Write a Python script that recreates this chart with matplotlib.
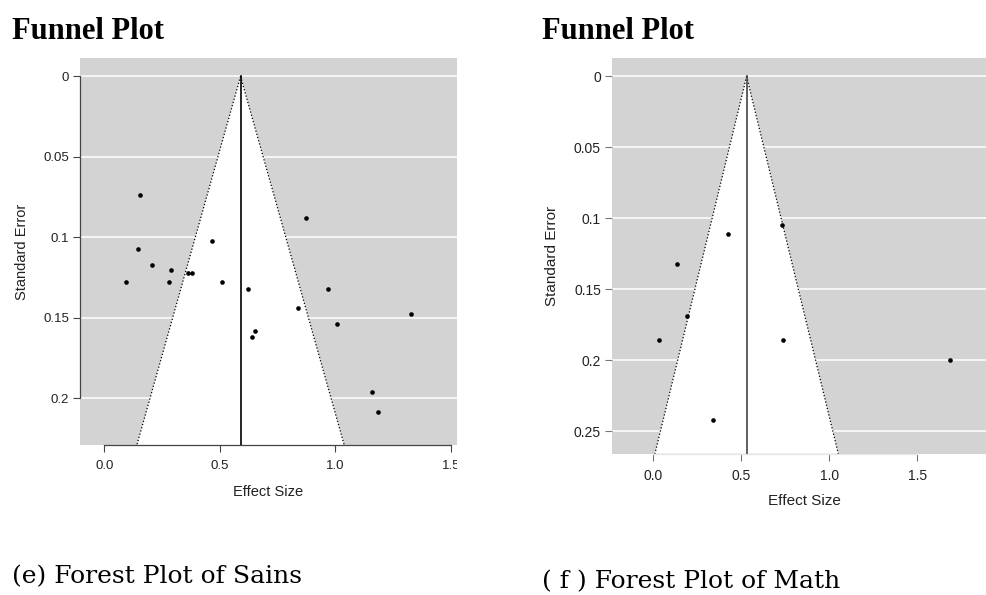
import matplotlib.pyplot as plt
from matplotlib.transforms import Bbox, TransformedBbox

# Sains studies: effect size and standard error
sains_es = [0.156, 0.875, 0.468, 0.144, 0.205, 0.287, 0.361, 0.381, 0.092, 0.279,
            0.508, 0.621, 0.970, 0.837, 1.328, 1.009, 0.651, 0.640, 1.159, 1.185]
sains_se = [0.074, 0.088, 0.1025, 0.107, 0.117, 0.120, 0.122, 0.122, 0.128, 0.128,
            0.128, 0.132, 0.132, 0.144, 0.1475, 0.154, 0.158, 0.162, 0.196, 0.2085]
sains_mean = 0.59

# Math studies
math_es = [0.731, 0.426, 0.135, 0.190, 0.031, 0.735, 1.686, 0.341]
math_se = [0.105, 0.111, 0.1325, 0.169, 0.1855, 0.1855, 0.200, 0.242]
math_mean = 0.53

sains_yticks = [0, 0.05, 0.1, 0.15, 0.2]
math_yticks = [0, 0.05, 0.1, 0.15, 0.2, 0.25]
xticks_vals = [0.0, 0.5, 1.0, 1.5]

W, H = 987, 595
fig = plt.figure(figsize=(W / 100, H / 100), dpi=100)
fig.patch.set_facecolor('white')

sans = 'Liberation Sans'
GRAY = '#d3d3d3'


def px_rect(x0, x1, top, bottom):
    return [x0 / W, 1 - bottom / H, (x1 - x0) / W, (bottom - top) / H]


def funnel(ax, es, se, mean, xlim, ylim, yticks, spine_col, tick_col, mid_col, fs):
    ax.set_facecolor(GRAY)
    ax.set_xlim(*xlim)
    ax.set_ylim(ylim[1], ylim[0])
    ymax = ylim[1]
    half = 1.96 * ymax
    # white region inside the 95% pseudo-confidence funnel
    ax.fill([mean, mean - half, mean + half], [0, ymax, ymax],
            color='white', zorder=1, lw=0)
    for yt in yticks:
        ax.axhline(yt, color='white', lw=1.1, zorder=0.5)
    ax.plot([mean, mean - half], [0, ymax], ls=':', color='black', lw=0.9, zorder=2)
    ax.plot([mean, mean + half], [0, ymax], ls=':', color='black', lw=0.9, zorder=2)
    ax.plot([mean, mean], [0, ymax], color=mid_col, lw=1.2, zorder=2)
    ax.scatter(es, se, s=11, color='black', zorder=3, lw=0)

    ax.set_yticks(yticks)
    ax.set_yticklabels([('%g' % v) for v in yticks])
    ax.set_xticks(xticks_vals)
    ax.set_xticklabels(['0.0', '0.5', '1.0', '1.5'])
    ax.tick_params(axis='both', length=5, width=0.8, color=tick_col,
                   labelsize=fs, labelcolor='#222222')
    ax.tick_params(axis='y', pad=3)
    ax.tick_params(axis='x', pad=6)
    for lab in ax.get_xticklabels() + ax.get_yticklabels():
        lab.set_family(sans)
    for s in ['top', 'right']:
        ax.spines[s].set_visible(False)
    ax.spines['left'].set_bounds(yticks[0], yticks[-1])
    ax.spines['bottom'].set_bounds(xticks_vals[0], xticks_vals[-1])
    ax.spines['left'].set_color(spine_col)
    ax.spines['bottom'].set_color(spine_col)
    ax.spines['left'].set_linewidth(0.9)
    ax.spines['bottom'].set_linewidth(0.9)
    ax.set_ylabel('Standard Error', family=sans, fontsize=fs + 1, color='#222222')
    ax.set_xlabel('Effect Size', family=sans, fontsize=fs + 1, color='#222222')
    ax.yaxis.label.set_va('center')
    ax.xaxis.label.set_va('center')


# left panel: Sains
ax1 = fig.add_axes(px_rect(80, 457, 58, 445))
funnel(ax1, sains_es, sains_se, sains_mean, (-0.105, 1.527), (-0.0114, 0.229),
       sains_yticks, '#444444', '#444444', 'black', 9.5)
ax1.yaxis.set_label_coords((22 - 80) / 377, 0.5)
ax1.xaxis.set_label_coords(0.5, -(492 - 445) / 387)
clip = TransformedBbox(Bbox([[0, 0], [457 / W, 1]]), fig.transFigure)
for lab in ax1.get_xticklabels():
    lab.set_clip_on(True)
    lab.set_clip_box(clip)

# right panel: Math
ax2 = fig.add_axes(px_rect(612, 987, 58, 453.7))
funnel(ax2, math_es, math_se, math_mean, (-0.235, 1.896), (-0.0129, 0.2658),
       math_yticks, '#e6e6e6', '#777777', '#444444', 10)
ax2.spines['left'].set_visible(False)
ax2.yaxis.set_label_coords((552 - 612) / 375, 0.5)
ax2.xaxis.set_label_coords((804 - 612) / 375, -(500.7 - 453.7) / 395.7)

# headings and captions
for x in (12, 542):
    fig.text(x / W, 1 - 39 / H, 'Funnel Plot', family='Liberation Serif',
             fontweight='bold', fontsize=22, va='baseline', ha='left')
fig.text(12 / W, 1 - 583 / H, '(e) Forest Plot of Sains', family='DejaVu Serif',
         fontsize=18, va='baseline', ha='left')
fig.text(542 / W, 1 - 588 / H, '( f ) Forest Plot of Math', family='DejaVu Serif',
         fontsize=18, va='baseline', ha='left')

fig.savefig('out.png', dpi=100)
